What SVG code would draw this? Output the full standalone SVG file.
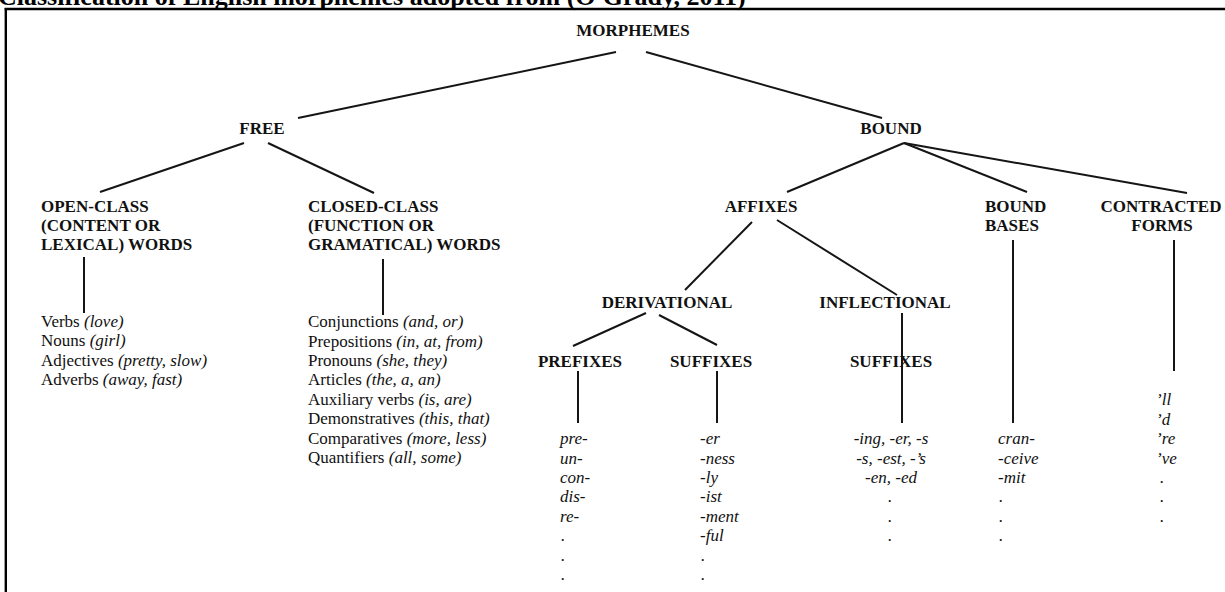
<svg xmlns="http://www.w3.org/2000/svg" width="1225" height="592" viewBox="0 0 1225 592">
<style>
.h{font-family:"Liberation Serif","Times New Roman",serif;font-weight:bold;font-size:17px;fill:#111}
.t{font-family:"Liberation Serif","Times New Roman",serif;font-size:17px;fill:#111}
.i{font-style:italic}
.c{text-anchor:middle}
.title{font-family:"Liberation Serif","Times New Roman",serif;font-weight:bold;font-size:26px;fill:#000}
#connectors line{stroke:#151515;stroke-width:2}
#frame line{stroke:#000}
</style>
<rect width="1225" height="592" fill="#fff"/>
<text class="title" x="-2" y="4.5">Classification of English morphemes adopted from (O'Grady, 2011)</text>
<g id="frame">
<line x1="4.7" y1="9" x2="1225" y2="9" stroke-width="2.5"/>
<line x1="5.8" y1="8" x2="5.8" y2="592" stroke-width="2.4"/>
</g>
<g id="connectors">
<line x1="616" y1="52" x2="298" y2="118"/>
<line x1="646" y1="52" x2="882" y2="118"/>
<line x1="244" y1="143" x2="100" y2="192"/>
<line x1="268" y1="143" x2="374" y2="193"/>
<line x1="84" y1="257" x2="84" y2="313"/>
<line x1="383" y1="259" x2="383" y2="315"/>
<line x1="904" y1="143" x2="787" y2="192"/>
<line x1="904" y1="143" x2="1027" y2="192"/>
<line x1="904" y1="143" x2="1187" y2="193"/>
<line x1="752" y1="222" x2="685" y2="290"/>
<line x1="777" y1="220" x2="897" y2="295"/>
<line x1="646" y1="313" x2="573" y2="346"/>
<line x1="659" y1="315" x2="717" y2="345"/>
<line x1="578" y1="371" x2="578" y2="423"/>
<line x1="717" y1="371" x2="717" y2="423"/>
<line x1="1013" y1="240" x2="1013" y2="423"/>
<line x1="1174" y1="240" x2="1174" y2="371"/>
</g>
<g id="morphemes"><text class="h c" x="633" y="36">MORPHEMES</text></g>
<g id="free"><text class="h c" x="262" y="134">FREE</text></g>
<g id="bound"><text class="h c" x="891" y="134">BOUND</text></g>
<g id="open-class">
<text class="h" x="41" y="212">OPEN-CLASS</text>
<text class="h" x="41" y="231">(CONTENT OR</text>
<text class="h" x="41" y="250">LEXICAL) WORDS</text>
</g>
<g id="closed-class">
<text class="h" x="308" y="212">CLOSED-CLASS</text>
<text class="h" x="308" y="231">(FUNCTION OR</text>
<text class="h" x="308" y="250">GRAMATICAL) WORDS</text>
</g>
<g id="open-list">
<text class="t" x="41" y="327">Verbs <tspan class="i">(love)</tspan></text>
<text class="t" x="41" y="346">Nouns <tspan class="i">(girl)</tspan></text>
<text class="t" x="41" y="365.5">Adjectives <tspan class="i">(pretty, slow)</tspan></text>
<text class="t" x="41" y="385">Adverbs <tspan class="i">(away, fast)</tspan></text>
</g>
<g id="closed-list">
<text class="t" x="308" y="327">Conjunctions <tspan class="i">(and, or)</tspan></text>
<text class="t" x="308" y="346.5">Prepositions <tspan class="i">(in, at, from)</tspan></text>
<text class="t" x="308" y="366">Pronouns <tspan class="i">(she, they)</tspan></text>
<text class="t" x="308" y="385">Articles <tspan class="i">(the, a, an)</tspan></text>
<text class="t" x="308" y="404.5">Auxiliary verbs <tspan class="i">(is, are)</tspan></text>
<text class="t" x="308" y="424">Demonstratives <tspan class="i">(this, that)</tspan></text>
<text class="t" x="308" y="443.5">Comparatives <tspan class="i">(more, less)</tspan></text>
<text class="t" x="308" y="463">Quantifiers <tspan class="i">(all, some)</tspan></text>
</g>
<g id="affixes"><text class="h c" x="761" y="212">AFFIXES</text></g>
<g id="bound-bases">
<text class="h" x="985" y="212">BOUND</text>
<text class="h" x="985" y="231">BASES</text>
</g>
<g id="contracted-forms">
<text class="h c" x="1161" y="212">CONTRACTED</text>
<text class="h c" x="1162" y="231">FORMS</text>
</g>
<g id="derivational"><text class="h c" x="667" y="308">DERIVATIONAL</text></g>
<g id="inflectional"><text class="h c" x="885" y="308">INFLECTIONAL</text></g>
<g id="prefixes"><text class="h c" x="580" y="367">PREFIXES</text></g>
<g id="deriv-suffixes"><text class="h c" x="711" y="367">SUFFIXES</text></g>
<g id="infl-suffixes"><text class="h c" x="891" y="367">SUFFIXES</text></g>
<line x1="902" y1="313" x2="902" y2="423" stroke="#151515" stroke-width="2"/>
<g id="prefix-list" class="t i">
<text x="560" y="444">pre-</text>
<text x="560" y="463.5">un-</text>
<text x="560" y="483">con-</text>
<text x="560" y="502">dis-</text>
<text x="560" y="521.5">re-</text>
<text x="561" y="541">.</text>
<text x="561" y="560.5">.</text>
<text x="561" y="580">.</text>
</g>
<g id="suffix-list" class="t i">
<text x="700" y="444">-er</text>
<text x="700" y="463.5">-ness</text>
<text x="700" y="483">-ly</text>
<text x="700" y="502">-ist</text>
<text x="700" y="521.5">-ment</text>
<text x="700" y="541">-ful</text>
<text x="701" y="560.5">.</text>
<text x="701" y="580">.</text>
</g>
<g id="infl-list" class="t i c">
<text x="891" y="444">-ing, -er, -s</text>
<text x="891" y="463.5">-s, -est, -’s</text>
<text x="891" y="483">-en, -ed</text>
<text x="890" y="502">.</text>
<text x="890" y="521.5">.</text>
<text x="890" y="541">.</text>
</g>
<g id="bases-list" class="t i">
<text x="998" y="444">cran-</text>
<text x="998" y="463.5">-ceive</text>
<text x="998" y="483">-mit</text>
<text x="999" y="502">.</text>
<text x="999" y="521.5">.</text>
<text x="999" y="541">.</text>
</g>
<g id="contracted-list" class="t i">
<text x="1156" y="405">’ll</text>
<text x="1156" y="424.5">’d</text>
<text x="1156" y="444">’re</text>
<text x="1156" y="463.5">’ve</text>
<text x="1160" y="483">.</text>
<text x="1160" y="502">.</text>
<text x="1160" y="521.5">.</text>
</g>
</svg>
